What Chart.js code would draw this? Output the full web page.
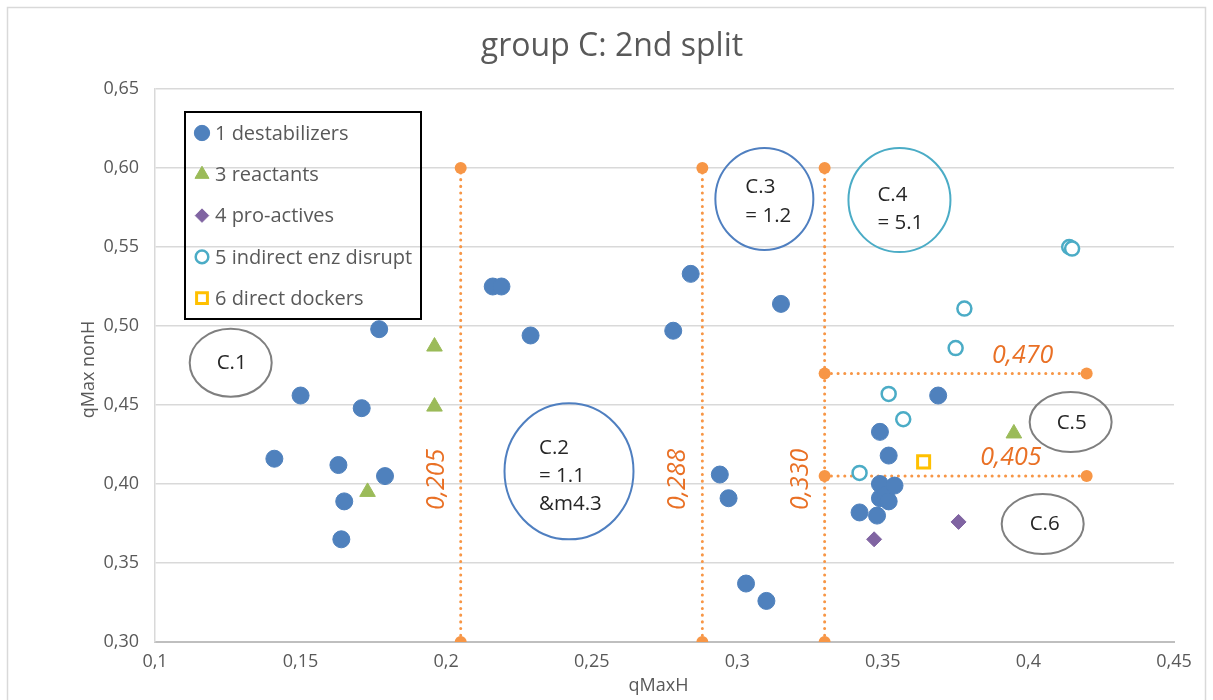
<!DOCTYPE html>
<html>
<head>
<meta charset="utf-8">
<script src="https://cdn.jsdelivr.net/npm/chart.js@4/dist/chart.umd.min.js"></script>
<style>
  html, body { margin: 0; padding: 0; background: #fff; }
  #wrap { width: 1213px; height: 700px; position: relative; }
</style>
</head>
<body>
<div id="wrap"><canvas id="myChart" width="1213" height="700"></canvas></div>
<script>
// data
const destabX = [0.141, 0.150, 0.163, 0.164, 0.165, 0.171, 0.177, 0.179, 0.216, 0.219, 0.229, 0.278, 0.284, 0.294, 0.297, 0.303, 0.310, 0.315, 0.342, 0.348, 0.349, 0.349, 0.349, 0.351, 0.352, 0.352, 0.354, 0.369];
const destabY = [0.416, 0.456, 0.412, 0.365, 0.389, 0.448, 0.498, 0.405, 0.525, 0.525, 0.494, 0.497, 0.533, 0.406, 0.391, 0.337, 0.326, 0.514, 0.382, 0.380, 0.400, 0.391, 0.433, 0.393, 0.418, 0.389, 0.399, 0.456];
const reactX = [0.173, 0.196, 0.196, 0.395];
const reactY = [0.395, 0.487, 0.449, 0.432];
const proX = [0.347, 0.376];
const proY = [0.365, 0.376];
const indirX = [0.342, 0.352, 0.357, 0.375, 0.378, 0.414, 0.415];
const indirY = [0.407, 0.457, 0.441, 0.486, 0.511, 0.550, 0.549];
const directX = [0.364];
const directY = [0.414];

const legendLabels = ["1 destabilizers", "3 reactants", "4 pro-actives", "5 indirect enz disrupt", "6 direct dockers"];

// orange cut lines
const vCuts = [0.205, 0.288, 0.330];
const vCutLabels = ["0,205", "0,288", "0,330"];
const vRange = [0.30, 0.60];
const hCuts = [0.470, 0.405];
const hCutLabels = ["0,470", "0,405"];
const hRange = [0.330, 0.420];

// group labels
const groupNames = [["C.1"], ["C.2", "= 1.1", "&m4.3"], ["C.3", "= 1.2"], ["C.4", "= 5.1"], ["C.5"], ["C.6"]];
const groupCx = [0.126, 0.2422, 0.3093, 0.3557, 0.4145, 0.4049];
const groupCy = [0.4767, 0.408, 0.5804, 0.5797, 0.4392, 0.3747];

const FONT = "'Open Sans', sans-serif";
const GREY = "#595959";
const ORANGE = "#F79646";
const ORANGE_TXT = "#E97025";

function pts(xs, ys) { return xs.map((x, i) => ({ x: x, y: ys[i] })); }

const series = [
  { label: legendLabels[0], data: pts(destabX, destabY), pointStyle: "circle", pointRadius: 8.5,
    backgroundColor: "#4F81BD", borderColor: "#4F81BD", pointBorderWidth: 1 },
  { label: legendLabels[1], data: pts(reactX, reactY), pointStyle: "triangle", pointRadius: 9,
    backgroundColor: "#9BBB59", borderColor: "#9BBB59", pointBorderWidth: 1 },
  { label: legendLabels[2], data: pts(proX, proY), pointStyle: "rectRot", pointRadius: 7.5,
    backgroundColor: "#8064A2", borderColor: "#8064A2", pointBorderWidth: 1 },
  { label: legendLabels[3], data: pts(indirX, indirY), pointStyle: "circle", pointRadius: 7,
    backgroundColor: "#fff", borderColor: "#4BACC6", pointBorderWidth: 2.5 },
  { label: legendLabels[4], data: pts(directX, directY), pointStyle: "rect", pointRadius: 8.5,
    backgroundColor: "#fff", borderColor: "#FFC000", pointBorderWidth: 3 },
];

const guideStyle = {
  showLine: true, borderColor: ORANGE, backgroundColor: ORANGE, borderWidth: 3,
  borderDash: [0.1, 6.6], borderCapStyle: "round", pointRadius: 6, pointBorderWidth: 0,
  pointStyle: "circle", order: 10,
};
const guides = [];
vCuts.forEach(v => guides.push(Object.assign({ data: [{ x: v, y: vRange[0] }, { x: v, y: vRange[1] }] }, guideStyle)));
hCuts.forEach(v => guides.push(Object.assign({ data: [{ x: hRange[0], y: v }, { x: hRange[1], y: v }] }, guideStyle)));

const ellipseStyle = [
  { rx: 41, ry: 34, color: "#7F7F7F", align: "center", dx: 1, dy: [0] },
  { rx: 64.5, ry: 68, color: "#4F7FC0", align: "left", dx: -30, dy: [-23, 5, 33] },
  { rx: 49, ry: 51, color: "#4F7FC0", align: "left", dx: -19, dy: [-12, 17] },
  { rx: 51, ry: 52, color: "#4BACC6", align: "left", dx: -22, dy: [-5, 23] },
  { rx: 41, ry: 30, color: "#7F7F7F", align: "center", dx: 1, dy: [1] },
  { rx: 41, ry: 30, color: "#7F7F7F", align: "center", dx: 2, dy: [0] },
];

const extras = {
  id: "extras",
  beforeDraw(chart) {
    const ctx = chart.ctx;
    ctx.save();
    ctx.fillStyle = "#fff";
    ctx.fillRect(0, 0, chart.width, chart.height);
    ctx.strokeStyle = "#D9D9D9";
    ctx.lineWidth = 1.5;
    ctx.strokeRect(7.5, 7.5, chart.width - 15, chart.height + 20);
    // title
    ctx.fillStyle = GREY;
    ctx.font = "32px " + FONT;
    ctx.textAlign = "center";
    ctx.textBaseline = "middle";
    ctx.fillText("group C: 2nd split", 612, 47);
    // axis titles
    ctx.font = "18px " + FONT;
    ctx.fillText("qMaxH", (chart.chartArea.left + chart.chartArea.right) / 2 - 6, 686);
    ctx.translate(89, (chart.chartArea.top + chart.chartArea.bottom) / 2 + 4);
    ctx.rotate(-Math.PI / 2);
    ctx.fillText("qMax nonH", 0, 0);
    ctx.restore();
  },
  beforeDatasetsDraw(chart) {
    // legend box (transparent, grid shows through; points drawn over it)
    const ctx = chart.ctx;
    ctx.save();
    ctx.strokeStyle = "#000";
    ctx.lineWidth = 2;
    ctx.strokeRect(185, 112, 236, 207);
    ctx.font = "20px " + FONT;
    ctx.textAlign = "left";
    ctx.textBaseline = "middle";
    series.forEach((s, i) => {
      const y = 133 + i * 41.3;
      ctx.fillStyle = s.backgroundColor;
      ctx.strokeStyle = s.borderColor;
      ctx.lineWidth = s.pointBorderWidth;
      Chart.helpers.drawPoint(ctx, { pointStyle: s.pointStyle, radius: s.pointRadius * 0.9, borderWidth: s.pointBorderWidth, rotation: 0 }, 202, y);
      ctx.fillStyle = GREY;
      ctx.fillText(s.label, 215, y + 1);
    });
    ctx.restore();
  },
  afterDatasetsDraw(chart) {
    const ctx = chart.ctx;
    const xs = chart.scales.x, ys = chart.scales.y;
    ctx.save();
    // ellipses with labels
    groupNames.forEach((lines, i) => {
      const st = ellipseStyle[i];
      const cx = xs.getPixelForValue(groupCx[i]);
      const cy = ys.getPixelForValue(groupCy[i]);
      ctx.beginPath();
      ctx.ellipse(cx, cy, st.rx, st.ry, 0, 0, Math.PI * 2);
      ctx.strokeStyle = st.color;
      ctx.lineWidth = 2;
      ctx.stroke();
      ctx.fillStyle = "#262626";
      ctx.font = "20.5px " + FONT;
      ctx.textAlign = st.align;
      ctx.textBaseline = "middle";
      lines.forEach((t, j) => ctx.fillText(t, cx + st.dx, cy + st.dy[j]));
    });
    // cut labels
    ctx.fillStyle = ORANGE_TXT;
    ctx.font = "italic 25px " + FONT;
    ctx.textAlign = "center";
    ctx.textBaseline = "middle";
    vCuts.forEach((v, i) => {
      ctx.save();
      ctx.translate(xs.getPixelForValue(v) - 24, ys.getPixelForValue(0.403));
      ctx.rotate(-Math.PI / 2);
      ctx.fillText(vCutLabels[i], 0, 0);
      ctx.restore();
    });
    const hx = [0.398, 0.394];
    hCuts.forEach((v, i) => {
      ctx.fillText(hCutLabels[i], xs.getPixelForValue(hx[i]), ys.getPixelForValue(v) - 18);
    });
    ctx.restore();
  }
};

function fmtX(v) { return parseFloat(v.toFixed(3)).toString().replace(".", ","); }
function fmtY(v) { return v.toFixed(2).replace(".", ","); }

const config = {
  type: "scatter",
  data: { datasets: [...series, ...guides] },
  options: {
    responsive: false,
    animation: false,
    layout: { padding: { top: 89, right: 39, bottom: 0, left: 0 } },
    plugins: { legend: { display: false }, title: { display: false }, tooltip: { enabled: false } },
    scales: {
      x: {
        type: "linear", min: 0.1, max: 0.45,
        ticks: { stepSize: 0.05, color: GREY, font: { family: FONT, size: 18 }, padding: 9, callback: fmtX },
        grid: { display: false, drawTicks: false },
        border: { color: "#BFBFBF", width: 2 },
        afterFit(scale) { scale.height = 58; }
      },
      y: {
        type: "linear", min: 0.30, max: 0.65,
        ticks: { stepSize: 0.05, color: GREY, font: { family: FONT, size: 18 }, padding: 16, callback: fmtY },
        grid: { color: "#D9D9D9", lineWidth: 1.5, drawTicks: false },
        border: { color: "#D9D9D9", width: 1.5 },
        afterFit(scale) { scale.width = 155; }
      }
    }
  },
  plugins: [extras]
};

const myChart = new Chart(document.getElementById("myChart"), config);
</script>
</body>
</html>
